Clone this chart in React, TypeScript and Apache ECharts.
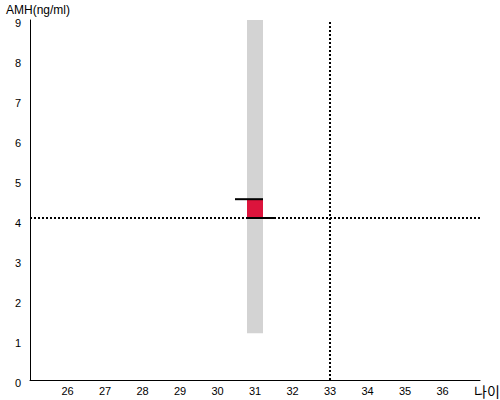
import React, { useEffect, useRef } from "react";
import * as echarts from "echarts";

const xTicks = [26, 27, 28, 29, 30, 31, 32, 33, 34, 35, 36];
const yTicks = [0, 1, 2, 3, 4, 5, 6, 7, 8, 9];
const bandAge = [31];
const bandLow = [1.17];
const bandHigh = [9];
const boxLow = [4.05];
const boxHigh = [4.52];
const userAge = 33;
const userAmh = 4.05;

export default function App() {
  const ref = useRef<HTMLDivElement>(null);
  useEffect(() => {
    const chart = echarts.init(ref.current!, null, { renderer: "svg" });
    const font = "Liberation Sans, Arial, sans-serif";
    chart.setOption({
      animation: false,
      grid: { left: 30, right: 20, top: 20, bottom: 20 },
      xAxis: {
        type: "value",
        min: 25,
        max: 37,
        interval: 1,
        axisLine: { lineStyle: { color: "#000", width: 1 } },
        axisTick: { show: false },
        splitLine: { show: false },
        axisLabel: {
          color: "#000",
          fontSize: 11,
          fontFamily: font,
          margin: 5,
          formatter: (v: number) => (xTicks.includes(v) ? String(v) : ""),
        },
      },
      yAxis: {
        type: "value",
        min: 0,
        max: 9,
        interval: 1,
        axisLine: { show: true, lineStyle: { color: "#000", width: 1 } },
        axisTick: { show: false },
        splitLine: { show: false },
        axisLabel: {
          color: "#000",
          fontSize: 11,
          fontFamily: font,
          margin: 9,
          verticalAlign: "top",
          lineHeight: 5,
          formatter: (v: number) => (yTicks.includes(v) ? String(v) : ""),
        },
      },
      graphic: [
        { type: "text", left: 6, top: 4, style: { text: "AMH(ng/ml)", fontSize: 12, fontFamily: font, fill: "#000" } },
        { type: "text", left: 474, top: 384, style: { text: "나이", fontSize: 14, fontFamily: "Noto Sans CJK KR", fill: "#000" } },
      ],
      series: [
        {
          type: "custom",
          data: bandAge.map((a, i) => [a, bandLow[i], bandHigh[i], boxLow[i], boxHigh[i]]),
          encode: { x: 0, y: [1, 2] },
          z: 1,
          renderItem: (params: any, api: any) => {
            const x = api.value(0);
            const pLow = api.coord([x, api.value(1)]);
            const pHigh = api.coord([x, api.value(2)]);
            const bLow = api.coord([x, api.value(3)]);
            const bHigh = api.coord([x, api.value(4)]);
            const hw = 8;
            return {
              type: "group",
              children: [
                { type: "rect", shape: { x: pHigh[0] - hw, y: pHigh[1], width: hw * 2, height: pLow[1] - pHigh[1] }, style: { fill: "#d3d3d3" } },
                { type: "rect", shape: { x: bHigh[0] - hw, y: bHigh[1], width: hw * 2, height: bLow[1] - bHigh[1] }, style: { fill: "#dc143c" } },
                { type: "line", shape: { x1: bHigh[0] - hw - 12, y1: bHigh[1], x2: bHigh[0] + hw, y2: bHigh[1] }, style: { stroke: "#000", lineWidth: 2 } },
                { type: "line", shape: { x1: bLow[0] - hw, y1: bLow[1], x2: bLow[0] + hw + 12, y2: bLow[1] }, style: { stroke: "#000", lineWidth: 2 } },
              ],
            };
          },
        },
        {
          type: "line",
          data: [],
          z: 3,
          markLine: {
            silent: true,
            symbol: "none",
            label: { show: false },
            lineStyle: { color: "#000", width: 2, type: [2, 2] },
            data: [{ xAxis: userAge }, { yAxis: userAmh }],
          },
        },
      ],
    });
    return () => chart.dispose();
  }, []);
  return <div ref={ref} style={{ width: 500, height: 400, position: "absolute", left: 0, top: 0 }} />;
}
